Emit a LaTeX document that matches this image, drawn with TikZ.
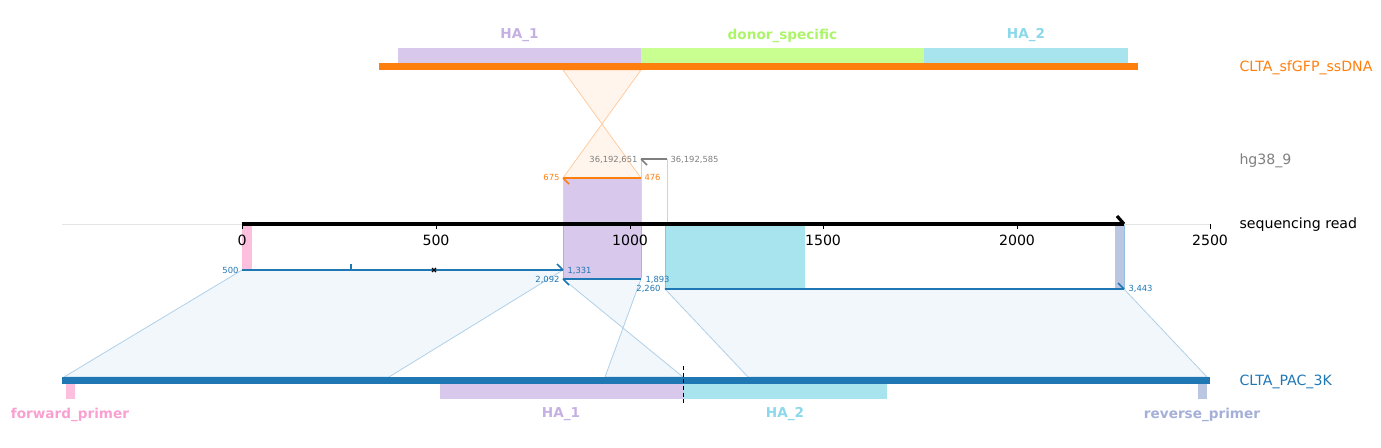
\documentclass[tikz,border=0pt]{standalone}
\usepackage{fontspec}
\setmainfont{DejaVu Sans}
\usetikzlibrary{positioning}

\definecolor{ssOrange}{RGB}{255,127,14}
\definecolor{refBlue}{RGB}{31,119,180}
\definecolor{hgGrey}{RGB}{127,127,127}
\definecolor{haOneFill}{RGB}{216,200,236}
\definecolor{haOneText}{RGB}{197,176,226}
\definecolor{donorFill}{RGB}{200,255,144}
\definecolor{donorText}{RGB}{172,245,104}
\definecolor{haTwoFill}{RGB}{168,228,238}
\definecolor{haTwoText}{RGB}{138,216,234}
\definecolor{fwdFill}{RGB}{253,191,222}
\definecolor{fwdText}{RGB}{250,160,208}
\definecolor{revFill}{RGB}{186,198,226}
\definecolor{revText}{RGB}{164,176,216}
\definecolor{mapFill}{RGB}{241,247,251}
\definecolor{mapEdge}{RGB}{176,208,232}
\definecolor{ssMapFill}{RGB}{255,245,236}
\definecolor{ssMapEdge}{RGB}{255,204,160}

\newcommand{\trackfont}{\fontsize{10.6}{12}\selectfont}
\newcommand{\featfont}{\fontsize{10.2}{12}\selectfont\bfseries}
\newcommand{\posfont}{\fontsize{6.3}{7}\selectfont}

\tikzset{every picture/.style={line width=0.75pt}}
\tikzset{
  aln/.style={line width=1.2pt},
  mapshape/.style={fill=mapFill, draw=mapEdge, line width=0.6pt},
  posnum/.style={inner sep=0.75pt, font=\posfont},
  featlabel/.style={inner sep=0.75pt, font=\featfont},
  tracklabel/.style={anchor=west, inner sep=0.75pt, font=\trackfont}
}

\begin{document}
\begin{tikzpicture}[x=0.75pt,y=0.75pt,yscale=-1,xscale=1]
\useasboundingbox (0,0) rectangle (1381,448);

%Shape: Polygon [ssDNA to read, crossed]
\draw [fill=ssMapFill, draw=ssMapEdge, line width=0.6pt] (563,70) -- (641,70) -- (563,178) -- (641,178) -- cycle ;
%Shape: Polygon [hg38 to read]
\draw [fill=white, draw={rgb,255:red,210;green,210;blue,210}, line width=0.6pt] (641,159) -- (667,159) -- (667,224) -- (641,224) -- cycle ;
%Shape: Polygon [read to CLTA_PAC_3K]
\draw [mapshape] (242,270) -- (563,270) -- (389,377) -- (64,377) -- cycle ;
\draw [mapshape] (563,279) -- (641,279) -- (605,377) -- (683,377) -- cycle ;
\draw [mapshape] (665,289) -- (1124,289) -- (1207,377) -- (748,377) -- cycle ;

%Shape: Rectangle [features on read]
\fill [haOneFill] (563,178) rectangle (641,278) ;
\draw [ssMapEdge, line width=0.6pt] (563,178) -- (563,224) (641,178) -- (641,224) ;
\draw [mapEdge!80!refBlue, line width=0.6pt] (563,224) -- (563,278) (641,224) -- (641,278) ;
\fill [haTwoFill] (665,224) rectangle (805,289) ;
\draw [mapEdge!80!refBlue, line width=0.6pt] (665,224) -- (665,289) ;
\fill [fwdFill] (242,224) rectangle (252,269) ;
\fill [revFill] (1115,224) rectangle (1124,289) ;
\draw [mapEdge!80!refBlue, line width=0.6pt] (1124,224) -- (1124,289) ;

%Shape: Rectangle [CLTA_sfGFP_ssDNA track]
\fill [haOneFill] (398,48) rectangle (641,63) ;
\fill [donorFill] (641,48) rectangle (924,63) ;
\fill [haTwoFill] (924,48) rectangle (1128,63) ;
\fill [ssOrange] (379,63) rectangle (1138,70) ;

%Shape: Rectangle [CLTA_PAC_3K track]
\fill [refBlue] (62,377) rectangle (1210,384) ;
\fill [fwdFill] (66,384) rectangle (75,399) ;
\fill [haOneFill] (440,384) rectangle (683,399) ;
\fill [haTwoFill] (683,384) rectangle (887,399) ;
\fill [revFill] (1198,384) rectangle (1207,399) ;
%Straight Lines [cut site]
\draw [dashed, dash pattern=on 3pt off 2pt, line width=0.6pt] (683,366) -- (683,404) ;

%Straight Lines [read axis]
\draw [color={rgb,255:red,228;green,228;blue,228}, line width=0.5pt] (62,224) -- (1210,224) ;
\draw [line width=3pt] (242,224) -- (1124,224) ;
\draw [line width=2.4pt] (1124,224) -- (1117,216) ;
\foreach \tx/\tl in {242/0, 436/500, 630/1000, 823/1500, 1017/2000, 1210/2500}{
  \draw [line width=0.6pt] (\tx,224) -- (\tx,229) ;
  \node (tick\tl) [inner sep=0.75pt, font=\trackfont] at (\tx,240.5) {\tl};
}

%Straight Lines [alignments]
\draw [aln, ssOrange] (563,178) -- (641,178) ;
\draw [aln, ssOrange] (563,178) -- (569,184) ;
\draw [aln, hgGrey] (641,159) -- (667,159) ;
\draw [aln, hgGrey] (641,159) -- (647,165) ;
\draw [aln, refBlue] (242,270) -- (563,270) ;
\draw [aln, refBlue] (563,270) -- (557,264) ;
\draw [aln, refBlue] (351,270) -- (351,264) ;
\draw [line width=0.9pt] (432,268) -- (436,272) (432,272) -- (436,268) ;
\draw [aln, refBlue] (563,279) -- (641,279) ;
\draw [aln, refBlue] (563,279) -- (569,285) ;
\draw [aln, refBlue] (665,289) -- (1124,289) ;
\draw [aln, refBlue] (1124,289) -- (1118,283) ;

% Text Node
\node (ssStart) [posnum, anchor=east, text=ssOrange] at (561,177.5) {675};
% Text Node
\node (ssEnd) [posnum, anchor=west, text=ssOrange] at (643,177.5) {476};
% Text Node
\node (hgStart) [posnum, anchor=east, text=hgGrey] at (639,159.5) {36,192,651};
% Text Node
\node (hgEnd) [posnum, anchor=west, text=hgGrey] at (669,159.5) {36,192,585};
% Text Node
\node (refStartA) [posnum, anchor=east, text=refBlue] at (240,270.5) {500};
% Text Node
\node (refEndA) [posnum, anchor=west, text=refBlue] at (566,270.5) {1,331};
% Text Node
\node (refStartB) [posnum, anchor=east, text=refBlue] at (561,279.5) {2,092};
% Text Node
\node (refEndB) [posnum, anchor=west, text=refBlue] at (644,279.5) {1,893};
% Text Node
\node (refStartC) [posnum, anchor=east, text=refBlue] at (662,288.5) {2,260};
% Text Node
\node (refEndC) [posnum, anchor=west, text=refBlue] at (1127,288.5) {3,443};

% Text Node
\node (topHAone) [featlabel, text=haOneText] at (519.5,35.5) {HA\_1};
% Text Node
\node (topDonor) [featlabel, text=donorText] at (782.5,35.5) {donor\_specific};
% Text Node
\node (topHAtwo) [featlabel, text=haTwoText] at (1026,35.5) {HA\_2};
% Text Node
\node (botFwd) [featlabel, text=fwdText] at (70,414.5) {forward\_primer};
% Text Node
\node (botHAone) [featlabel, text=haOneText] at (561,414.5) {HA\_1};
% Text Node
\node (botHAtwo) [featlabel, text=haTwoText] at (785,414.5) {HA\_2};
% Text Node
\node (botRev) [featlabel, text=revText] at (1202,414.5) {reverse\_primer};

% Text Node
\node (ssdnaName) [tracklabel, text=ssOrange] at (1238,67.5) {CLTA\_sfGFP\_ssDNA};
% Text Node
\node (hgName) [tracklabel, text=hgGrey] at (1238,160.5) {hg38\_9};
% Text Node
\node (readName) [tracklabel] at (1238,224.5) {sequencing read};
% Text Node
\node (refName) [tracklabel, text=refBlue] at (1238,381.5) {CLTA\_PAC\_3K};

\end{tikzpicture}
\end{document}
